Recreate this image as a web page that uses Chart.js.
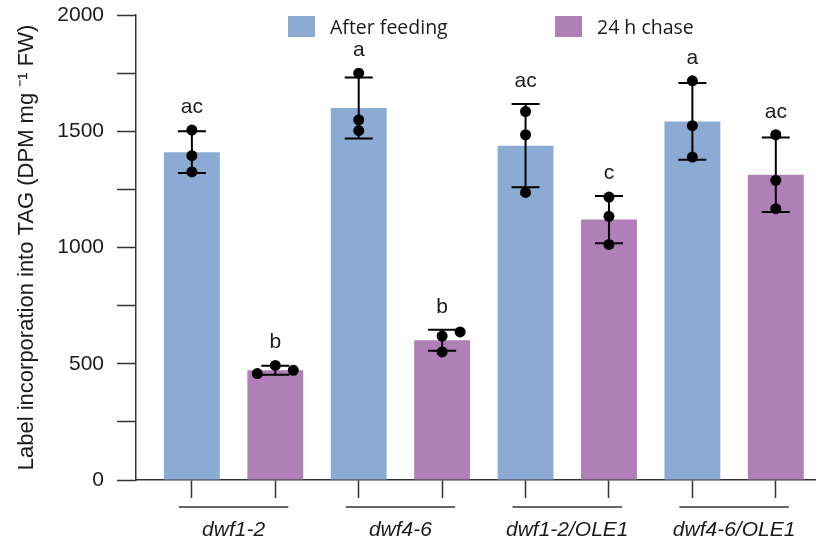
<!DOCTYPE html>
<html>
<head>
<meta charset="utf-8">
<script src="https://cdn.jsdelivr.net/npm/chart.js@4.4.1/dist/chart.umd.min.js"></script>
<style>
  html, body { margin: 0; padding: 0; background: #fff; }
  #wrap { width: 819px; height: 543px; }
</style>
</head>
<body>
<div id="wrap"><canvas id="tagChart"></canvas></div>
<script>
// values (DPM mg-1 FW)
const genotypes = ['dwf1-2', 'dwf4-6', 'dwf1-2/OLE1', 'dwf4-6/OLE1'];
const seriesNames = ['After feeding', '24 h chase'];

const feedMeans = [1410, 1600, 1438, 1542];
const feedSD = [90, 131, 179, 165];
const feedPoints = [[1505, 1395, 1325], [1750, 1549, 1503], [1585, 1485, 1237], [1717, 1524, 1389]];
const feedLetters = ['ac', 'a', 'ac', 'a'];

const chaseMeans = [472, 601, 1120, 1313];
const chaseSD = [19, 45, 102, 160];
const chasePoints = [[493, 472, 458], [619, 637, 551], [1217, 1134, 1013], [1485, 1289, 1167]];
const chaseLetters = ['b', 'b', 'c', 'ac'];

const yLabelTicks = [0, 500, 1000, 1500, 2000];

const blue = '#8cabd4';
const purple = '#b07fb8';
const ink = '#1a1a1a';
const axisGrey = '#333333';
const sans = '"Liberation Sans", Arial, sans-serif';

// each bar sits on its own integer x position: group g -> 2g (feed), 2g+1 (chase)
const series = [
    { means: feedMeans, sd: feedSD, points: feedPoints, letters: feedLetters, offset: 0 },
    { means: chaseMeans, sd: chaseSD, points: chasePoints, letters: chaseLetters, offset: 1 }
];

const extrasPlugin = {
    id: 'extras',
    afterDatasetsDraw(chart) {
        const ctx = chart.ctx;
        const xs = chart.scales.x;
        const ys = chart.scales.y;
        const r = 5.5;

        series.forEach(s => {
            s.means.forEach((m, g) => {
                const cx = xs.getPixelForValue(2 * g + s.offset);
                const yHi = ys.getPixelForValue(m + s.sd[g]);
                const yLo = ys.getPixelForValue(m - s.sd[g]);

                ctx.save();
                ctx.strokeStyle = '#000';
                ctx.lineWidth = 2;
                ctx.beginPath();
                ctx.moveTo(cx, yHi); ctx.lineTo(cx, yLo);
                ctx.moveTo(cx - 14, yHi); ctx.lineTo(cx + 14, yHi);
                ctx.moveTo(cx - 14, yLo); ctx.lineTo(cx + 14, yLo);
                ctx.stroke();

                // replicate dots, nudged sideways when they would overlap
                const placed = [];
                s.points[g].forEach(v => {
                    const py = ys.getPixelForValue(v);
                    let dx = 0;
                    for (const cand of [0, 18, -18, 36, -36]) {
                        const hit = placed.some(p => p.dx === cand && Math.abs(p.py - py) < 2 * r - 1);
                        if (!hit) { dx = cand; break; }
                    }
                    placed.push({ dx, py });
                    ctx.fillStyle = '#000';
                    ctx.beginPath();
                    ctx.arc(cx + dx, py, r, 0, Math.PI * 2);
                    ctx.fill();
                });

                // significance letters
                const top = Math.min(yHi, ...s.points[g].map(v => ys.getPixelForValue(v)));
                ctx.fillStyle = ink;
                ctx.font = '21px ' + sans;
                ctx.textAlign = 'center';
                ctx.textBaseline = 'middle';
                ctx.fillText(s.letters[g], cx, top - 23);
                ctx.restore();
            });
        });
    },
    afterDraw(chart) {
        const ctx = chart.ctx;
        const xs = chart.scales.x;
        const area = chart.chartArea;

        // group underlines below the bar ticks
        ctx.save();
        ctx.strokeStyle = axisGrey;
        ctx.lineWidth = 1.5;
        genotypes.forEach((name, g) => {
            const a = xs.getPixelForValue(2 * g);
            const b = xs.getPixelForValue(2 * g + 1);
            ctx.beginPath();
            ctx.moveTo(a - 13, area.bottom + 27);
            ctx.lineTo(b + 13, area.bottom + 27);
            ctx.stroke();
        });

        // legend inside the plot area
        const legendX = [area.left + 152, area.left + 419];
        chart.data.datasets.forEach((ds, i) => {
            const x0 = legendX[i];
            ctx.fillStyle = ds.backgroundColor;
            ctx.fillRect(x0, area.top + 1, 27, 21);
            ctx.fillStyle = ink;
            ctx.font = '19.5px "Open Sans", sans-serif';
            ctx.textAlign = 'left';
            ctx.textBaseline = 'middle';
            ctx.fillText(ds.label, x0 + 42, area.top + 13);
        });
        ctx.restore();
    }
};

const xTickValues = [];
genotypes.forEach((_, g) => { xTickValues.push(2 * g, 2 * g + 0.5, 2 * g + 1); });

// the half-step label ticks halve Chart.js' sample spacing, hence barPercentage > 1
new Chart(document.getElementById('tagChart'), {
    type: 'bar',
    data: {
        datasets: [
            {
                label: seriesNames[0],
                data: feedMeans.map((m, g) => ({ x: 2 * g, y: m })),
                backgroundColor: blue,
                grouped: false,
                barPercentage: 1.34,
                categoryPercentage: 1
            },
            {
                label: seriesNames[1],
                data: chaseMeans.map((m, g) => ({ x: 2 * g + 1, y: m })),
                backgroundColor: purple,
                grouped: false,
                barPercentage: 1.34,
                categoryPercentage: 1
            }
        ]
    },
    options: {
        responsive: true,
        maintainAspectRatio: false,
        animation: false,
        layout: { padding: { top: 15, right: 4, bottom: 0, left: 0 } },
        plugins: {
            legend: { display: false },
            tooltip: { enabled: false }
        },
        scales: {
            x: {
                type: 'linear',
                offset: false,
                min: -0.67,
                max: 7.47,
                afterBuildTicks: scale => {
                    scale.ticks = xTickValues.map(v => ({ value: v }));
                },
                afterFit: scale => {
                    scale.height = 63;
                    scale.paddingLeft = 0;
                    scale.paddingRight = 0;
                },
                grid: {
                    offset: false,
                    drawOnChartArea: false,
                    tickLength: 18,
                    tickWidth: 1.5,
                    tickColor: c => (c.tick && Number.isInteger(c.tick.value)) ? axisGrey : 'rgba(0,0,0,0)'
                },
                border: { color: axisGrey, width: 1.5 },
                ticks: {
                    autoSkip: false,
                    maxRotation: 0,
                    padding: 20,
                    color: ink,
                    font: { family: sans, size: 21, style: 'italic' },
                    callback: v => Number.isInteger(v) ? '' : genotypes[Math.floor(v / 2)]
                }
            },
            y: {
                min: 0,
                max: 2000,
                afterFit: scale => {
                    scale.width = 136;
                    scale.paddingTop = 0;
                    scale.paddingBottom = 0;
                },
                grid: {
                    drawOnChartArea: false,
                    tickLength: 19,
                    tickWidth: 1.5,
                    tickColor: axisGrey
                },
                border: { color: axisGrey, width: 1.5 },
                ticks: {
                    stepSize: 250,
                    autoSkip: false,
                    padding: 13,
                    color: ink,
                    font: { family: sans, size: 21 },
                    callback: v => yLabelTicks.includes(v) ? String(v) : ''
                },
                title: {
                    display: true,
                    text: 'Label incorporation into TAG (DPM mg \u207B\u00B9 FW)',
                    color: ink,
                    font: { family: sans, size: 22 },
                    padding: { top: 14, bottom: 0 }
                }
            }
        }
    },
    plugins: [extrasPlugin]
});
</script>
</body>
</html>
